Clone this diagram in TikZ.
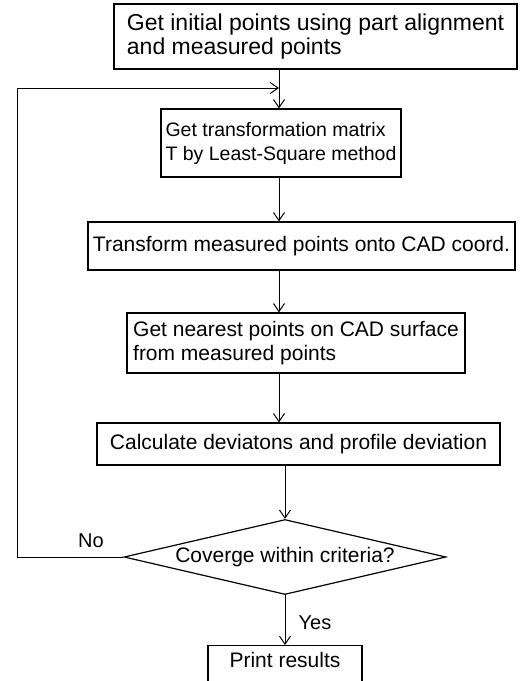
\documentclass[tikz,border=0pt]{standalone}
\usepackage{fontspec}
\setmainfont{Liberation Sans}
\usetikzlibrary{shapes.geometric,arrows.meta}

\begin{document}
\begin{tikzpicture}[x=1pt,y=-1pt,
			box/.style={draw,rectangle,line width=1.2pt,inner sep=0pt,align=left,
				font=\fontsize{21}{24}\selectfont},
			decision/.style={draw,diamond,line width=1.2pt,inner sep=0pt,aspect=4.3,
				font=\fontsize{21}{24}\selectfont},
			flow/.style={line width=1pt,-{Straight Barb[length=8pt,width=11pt]}},
			answer/.style={font=\fontsize{20}{24}\selectfont}]
			\useasboundingbox (0,0) rectangle (529,681);
			\coordinate (spine) at (279,0);
			\node (init) [box,minimum width=403pt,minimum height=65pt,
				font=\fontsize{23}{24}\selectfont] at (315.5,36.5)
				{Get initial points using part alignment\\and measured points};
			\node (lsq) [box,minimum width=240pt,minimum height=68pt,
				font=\fontsize{19.5}{24}\selectfont] at (281,143)
				{Get transformation matrix\\T by Least-Square method};
			\node (trans) [box,minimum width=427pt,minimum height=48pt] at (301.5,246)
				{Transform measured points onto CAD coord.};
			\node (near) [box,minimum width=338pt,minimum height=60pt] at (296,343)
				{Get nearest points on CAD surface\\from measured points};
			\node (calc) [box,minimum width=403pt,minimum height=42pt] at (298.5,444)
				{Calculate deviatons and profile deviation};
			\node (conv) [decision,minimum width=322pt,minimum height=75pt] at (285,557)
				{Coverge within criteria?};
			\node (print) [box,minimum width=154pt,anchor=north,inner ysep=7pt,
				text depth=40pt] at (285,645) {Print results};
			% labels of the decision
			\node (no) [answer] at (91,541) {No};
			\node (yes) [answer] at (315,623) {Yes};
			% connectors
			\coordinate (merge) at (279,88);
			\coordinate (back) at (17,88);
			\draw[flow] (init.south -| spine) -- (lsq.north -| spine);
			\draw[flow] (lsq.south -| spine) -- (trans.north -| spine);
			\draw[flow] (trans.south -| spine) -- (near.north -| spine);
			\draw[flow] (near.south -| spine) -- (calc.north -| spine);
			\draw[flow] (calc.south -| conv.north) -- (conv.north);
			\draw[flow] (conv.south) -- (print.north);
			\draw[flow] (conv.west) -| (back) -- (merge);
		\end{tikzpicture}
\end{document}
